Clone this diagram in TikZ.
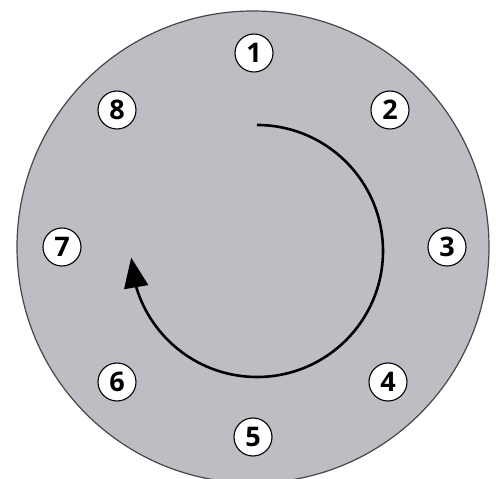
\documentclass[tikz,border=0pt]{standalone}
\usepackage{fontspec}
\setmainfont{Open Sans}
\usepackage{tikz}
\usetikzlibrary{arrows.meta,bending}
\definecolor{dialgray}{RGB}{189,190,195}
\definecolor{dialrim}{RGB}{70,70,72}

\begin{document}
\begin{tikzpicture}[x=1pt, y=1pt,
      numdisc/.style={circle, draw=black, fill=white, line width=1.1pt, minimum size=38pt, inner sep=0pt, font=\fontsize{27}{27}\selectfont\bfseries},
      turnline/.style={line width=2.6pt, -{Triangle[length=30pt, width=24pt]}}
    ]
      \useasboundingbox (-253,-232) rectangle (243,247);
      \clip (-253,-232) rectangle (243,247);

      % dial
      \draw[fill=dialgray, draw=dialrim, line width=1.2pt] (0,0) circle[radius=236];

      % positions
      \node[numdisc] (n1) at (1,194) {1};
      \node[numdisc] (n2) at (137,137) {2};
      \node[numdisc] (n3) at (194,0) {3};
      \node[numdisc] (n4) at (135,-135) {4};
      \node[numdisc] (n5) at (0,-190) {5};
      \node[numdisc] (n6) at (-136,-135) {6};
      \node[numdisc] (n7) at (-191,0) {7};
      \node[numdisc] (n8) at (-136,137) {8};

      % direction of turn
      \coordinate (turnstart) at (4,122);
      \draw[turnline] (turnstart) arc[start angle=90, end angle=-177, radius=126];
    \end{tikzpicture}
\end{document}
